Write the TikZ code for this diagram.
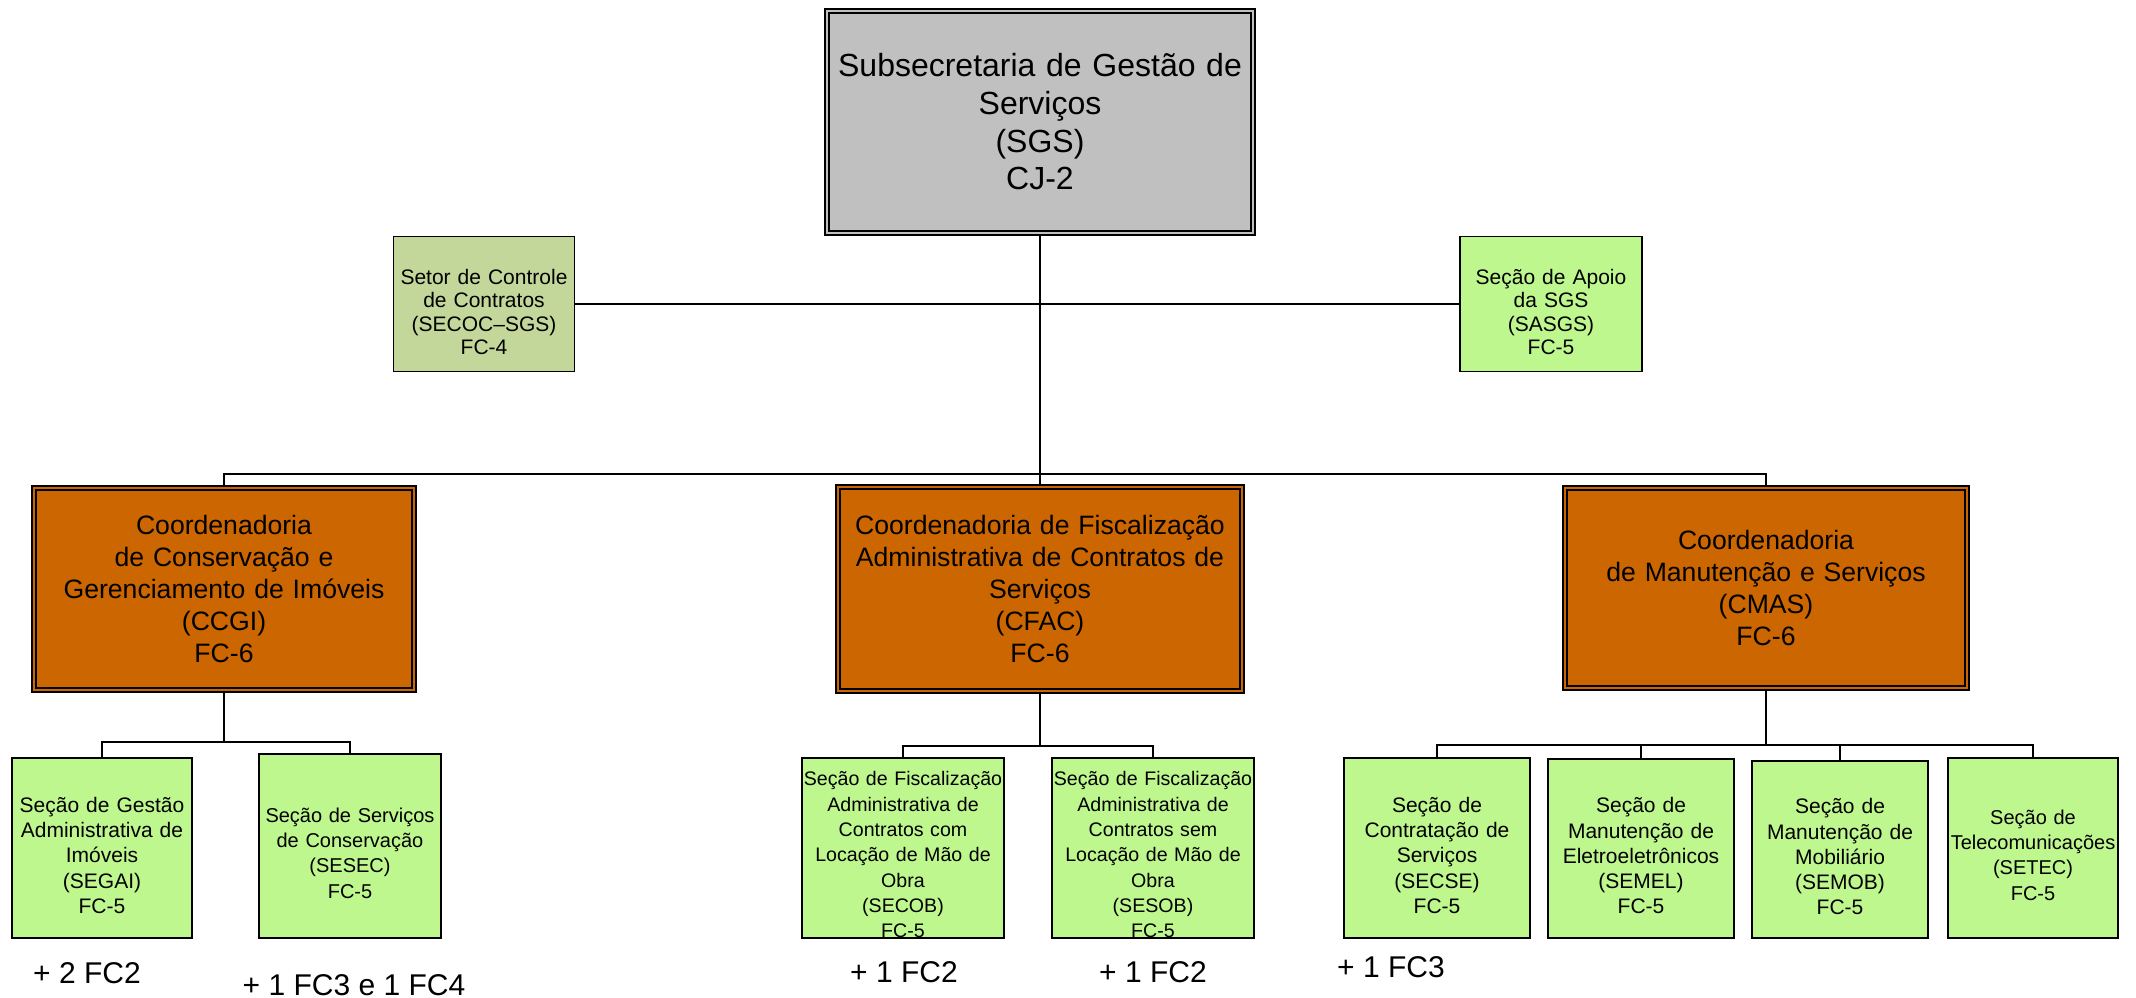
\documentclass[tikz,border=0pt]{standalone}
\usepackage{fontspec}
\setmainfont{Liberation Sans}
\definecolor{sgsgray}{RGB}{192,192,192}
\definecolor{setorgreen}{RGB}{196,215,155}
\definecolor{litegreen}{RGB}{191,247,143}
\definecolor{coordorange}{RGB}{204,102,0}
\newcommand{\fsz}[2]{\fontsize{#1}{#2}\selectfont}
\newcommand{\liftline}[1]{\rule{0pt}{#1}}
\begin{document}
\begin{tikzpicture}[x=1pt,y=-1pt,
  conn/.style={draw=black, line width=1.7pt},
  dbox/.style={draw=black, line width=2pt, double distance=2pt, inner sep=0pt, align=center},
  sbox/.style={draw=black, line width=1.9pt, inner sep=0pt, align=center},
  gbox/.style={sbox, fill=litegreen},
  obox/.style={dbox, fill=coordorange, double=coordorange, font={\fsz{26.6}{32}}},
  lbl/.style={inner sep=0pt, font={\fsz{30}{36}}}
]
\useasboundingbox (0,0) rectangle (2136,998);

% top
\node[dbox, fill=sgsgray, double=sgsgray, minimum width=426pt, minimum height=222pt,
      text width=420pt, font={\fsz{32}{37.7}}] (sgs) at (1040,122)
  {Subsecretaria de Gestão de\\Serviços\\(SGS)\\CJ-2};

\node[sbox, fill=setorgreen, minimum width=181pt, minimum height=135pt,
      text width=178pt, font={\fsz{21}{23.5}}] (secoc) at (484,304)
  {\liftline{1.5em}Setor de Controle\\de Contratos\\(SECOC–SGS)\\FC-4};

\node[gbox, minimum width=182pt, minimum height=135pt,
      text width=178pt, font={\fsz{21}{23.5}}] (sasgs) at (1551,304)
  {\liftline{1.5em}Seção de Apoio\\da SGS\\(SASGS)\\FC-5};

% coordenadorias
\node[obox, minimum width=380pt, minimum height=202pt, text width=376pt] (ccgi) at (224,589)
  {Coordenadoria\\de Conservação e\\Gerenciamento de Imóveis\\(CCGI)\\FC-6};
\node[obox, minimum width=404pt, minimum height=204pt, text width=400pt] (cfac) at (1040,589)
  {Coordenadoria de Fiscalização\\Administrativa de Contratos de\\Serviços\\(CFAC)\\FC-6};
\node[obox, minimum width=402pt, minimum height=200pt, text width=398pt] (cmas) at (1766,587.5)
  {Coordenadoria\\de Manutenção e Serviços\\(CMAS)\\FC-6};

% secoes
\node[gbox, minimum width=180.5pt, minimum height=180.5pt, text width=180pt,
      font={\fsz{21}{25.4}}] (segai) at (102,848)
  {\liftline{1.42em}Seção de Gestão\\Administrativa de\\Imóveis\\(SEGAI)\\FC-5};
\node[gbox, minimum width=182.5pt, minimum height=184.5pt, text width=182pt,
      font={\fsz{20}{25.3}}] (sesec) at (350,846)
  {\liftline{1.42em}Seção de Serviços\\de Conservação\\(SESEC)\\FC-5};
\node[gbox, minimum width=201.5pt, minimum height=180.5pt, text width=201pt,
      font={\fsz{19.6}{25.3}}] (secob) at (903,848)
  {\liftline{1.42em}Seção de Fiscalização\\Administrativa de\\Contratos com\\Locação de Mão de\\Obra\\(SECOB)\\FC-5};
\node[gbox, minimum width=202.5pt, minimum height=180.5pt, text width=202pt,
      font={\fsz{19.6}{25.3}}] (sesob) at (1153,848)
  {\liftline{1.42em}Seção de Fiscalização\\Administrativa de\\Contratos sem\\Locação de Mão de\\Obra\\(SESOB)\\FC-5};
\node[gbox, minimum width=186.5pt, minimum height=180.5pt, text width=186pt,
      font={\fsz{21}{25.3}}] (secse) at (1437,848)
  {\liftline{1.42em}Seção de\\Contratação de\\Serviços\\(SECSE)\\FC-5};
\node[gbox, minimum width=186.5pt, minimum height=179.5pt, text width=186pt,
      font={\fsz{21}{25.3}}] (semel) at (1641,848.5)
  {\liftline{1.42em}Seção de\\Manutenção de\\Eletroeletrônicos\\(SEMEL)\\FC-5};
\node[gbox, minimum width=176pt, minimum height=177.5pt, text width=175pt,
      font={\fsz{21}{25.3}}] (semob) at (1840,849.5)
  {\liftline{1.42em}Seção de\\Manutenção de\\Mobiliário\\(SEMOB)\\FC-5};
\node[gbox, minimum width=170pt, minimum height=180.5pt, text width=169pt,
      font={\fsz{20}{25.3}}] (setec) at (2033,848)
  {\liftline{1.42em}Seção de\\Telecomunicações\\(SETEC)\\FC-5};

% extra labels
\node[lbl] (l1) at (87,973) {+ 2 FC2};
\node[lbl] (l2) at (354,985) {+ 1 FC3 e 1 FC4};
\node[lbl] (l3) at (904,972.5) {+ 1 FC2};
\node[lbl] (l4) at (1153,972.5) {+ 1 FC2};
\node[lbl] (l5) at (1391,967) {+ 1 FC3};

% bus coordinates
\coordinate (b1) at (1040,474);
\coordinate (b2) at (224,742);
\coordinate (b3) at (1040,746);
\coordinate (b4) at (1766,745);

% connectors
\draw[conn] (secoc.east) -- (sasgs.west);
\draw[conn] (sgs.south) -- (b1);
\draw[conn] (ccgi.north) |- (b1);
\draw[conn] (cmas.north) |- (b1);
\draw[conn] (cfac.north) -- (b1);

\draw[conn] (ccgi.south) -- (b2);
\draw[conn] (segai.north) |- (b2);
\draw[conn] (sesec.north) |- (b2);

\draw[conn] (cfac.south) -- (b3);
\draw[conn] (secob.north) |- (b3);
\draw[conn] (sesob.north) |- (b3);

\draw[conn] (cmas.south) -- (b4);
\draw[conn] (secse.north) |- (b4);
\draw[conn] (semel.north) |- (b4);
\draw[conn] (semob.north) |- (b4);
\draw[conn] (setec.north) |- (b4);
\end{tikzpicture}
\end{document}
